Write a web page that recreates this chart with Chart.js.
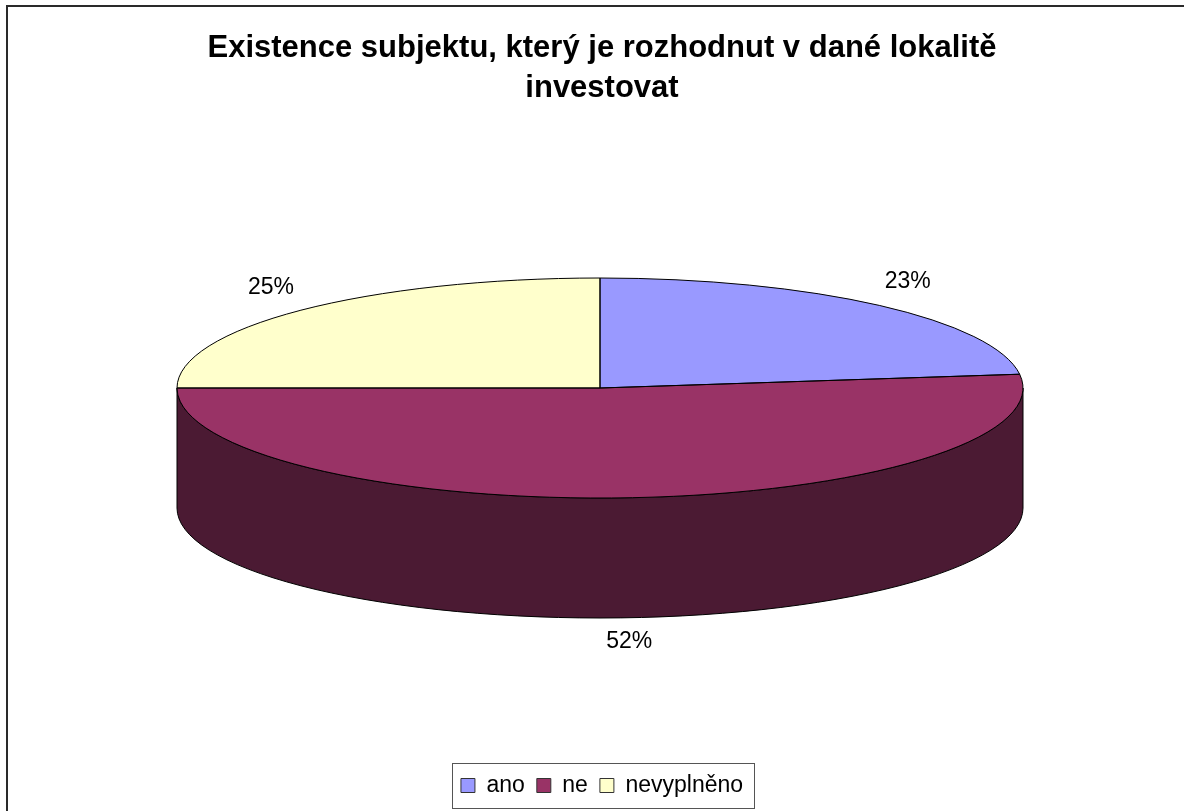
<!DOCTYPE html>
<html>
<head>
<meta charset="utf-8">
<script src="https://cdn.jsdelivr.net/npm/chart.js@4.4.0/dist/chart.umd.min.js"></script>
<style>body{margin:0;background:#fff}</style>
</head>
<body>
<canvas id="graf" width="1184" height="811"></canvas>
<script>
// data
const kategorie = ['ano', 'ne', 'nevyplněno'];
const procenta = [23, 52, 25];
const popisky = ['23%', '52%', '25%'];

// barvy
const barvy = ['#9999FF', '#993366', '#FFFFCC'];
const barvyBoku = ['#4D4D80', '#4B1A33', '#808066'];

const PISMO = '"Liberation Sans", Arial, sans-serif';

// rozmery 3D kolace (stred, poloosy, hloubka)
const TX = 600, TY = 388, RX = 423, RY = 110, HLOUBKA = 120;

const kolac3d = {
  id: 'kolac3d',
  beforeDraw(chart) {
    const ctx = chart.ctx;
    ctx.save();
    ctx.fillStyle = '#fff';
    ctx.fillRect(0, 0, chart.width, chart.height);
    ctx.strokeStyle = '#2a2a2a';
    ctx.lineWidth = 2;
    ctx.strokeRect(7, 6, 1400, 1000);
    ctx.restore();
  },
  beforeDatasetsDraw(chart) {
    const ctx = chart.ctx;
    const oblouky = chart.getDatasetMeta(0).data;
    // boky kolace
    ctx.save();
    ctx.lineWidth = 1;
    ctx.strokeStyle = '#000';
    oblouky.forEach((a, i) => {
      const s = Math.max(a.startAngle, 0), e = Math.min(a.endAngle, Math.PI);
      if (e <= s) return;
      ctx.beginPath();
      ctx.ellipse(TX, TY, RX, RY, 0, s, e);
      ctx.ellipse(TX, TY + HLOUBKA, RX, RY, 0, e, s, true);
      ctx.closePath();
      ctx.fillStyle = barvyBoku[i];
      ctx.fill();
      ctx.stroke();
    });
    ctx.restore();
    // horni plocha - zplostit
    const a = oblouky[0];
    ctx.save();
    ctx.translate(TX, TY);
    ctx.scale(RX / a.outerRadius, RY / a.outerRadius);
    ctx.translate(-a.x, -a.y);
  },
  afterDatasetsDraw(chart) {
    const ctx = chart.ctx;
    ctx.restore();
    const oblouky = chart.getDatasetMeta(0).data;
    ctx.save();
    ctx.lineWidth = 1;
    ctx.strokeStyle = '#000';
    oblouky.forEach(a => {
      ctx.beginPath();
      ctx.moveTo(TX, TY);
      ctx.lineTo(TX + RX * Math.cos(a.startAngle), TY + RY * Math.sin(a.startAngle));
      ctx.ellipse(TX, TY, RX, RY, 0, a.startAngle, a.endAngle);
      ctx.closePath();
      ctx.stroke();
    });
    // popisky
    ctx.fillStyle = '#000';
    ctx.font = '23px ' + PISMO;
    ctx.textAlign = 'center';
    ctx.textBaseline = 'middle';
    oblouky.forEach((a, i) => {
      const t = (a.startAngle + a.endAngle) / 2;
      const sn = Math.sin(t);
      const x = TX + RX * 1.1 * Math.cos(t);
      const y = TY + RY * 1.25 * sn + (sn > 0 ? HLOUBKA - 4 : -3);
      ctx.fillText(popisky[i], x, y);
    });
    ctx.restore();
  },
  afterDraw(chart) {
    // ramecek legendy
    const lg = chart.legend;
    const hb = lg.legendHitBoxes;
    if (!hb || !hb.length) return;
    const l = Math.min(...hb.map(h => h.left));
    const r = Math.max(...hb.map(h => h.left + h.width));
    const t = hb[0].top, h = hb[0].height;
    const ctx = chart.ctx;
    ctx.save();
    ctx.strokeStyle = '#555';
    ctx.lineWidth = 1;
    ctx.strokeRect(Math.round(l - 9) + 0.5, Math.round(t - 11) + 0.5, Math.round(r - l + 20), Math.round(h + 22));
    ctx.restore();
  }
};

const ctx = document.getElementById('graf').getContext('2d');
const graf = new Chart(ctx, {
  type: 'pie',
  data: {
    labels: kategorie,
    datasets: [{
      data: procenta,
      backgroundColor: barvy,
      borderWidth: 0,
      hoverOffset: 0
    }]
  },
  options: {
    responsive: false,
    animation: false,
    devicePixelRatio: 1,
    layout: { padding: { top: 0, bottom: 4, left: 38, right: 18 } },
    plugins: {
      title: {
        display: true,
        text: ['Existence subjektu, který je rozhodnut v dané lokalitě', 'investovat'],
        color: '#000',
        font: { size: 31, weight: 'bold', family: PISMO, lineHeight: 1.29 },
        padding: { top: 28, bottom: 20 }
      },
      legend: {
        position: 'bottom',
        labels: {
          boxWidth: 14,
          boxHeight: 14,
          padding: 12,
          color: '#000',
          font: { size: 23, family: PISMO },
          generateLabels() {
            return kategorie.map((k, i) => ({
              text: k,
              fillStyle: barvy[i],
              strokeStyle: '#333',
              lineWidth: 1,
              hidden: false,
              index: i
            }));
          }
        }
      },
      tooltip: { enabled: false }
    }
  },
  plugins: [kolac3d]
});
</script>
</body>
</html>
